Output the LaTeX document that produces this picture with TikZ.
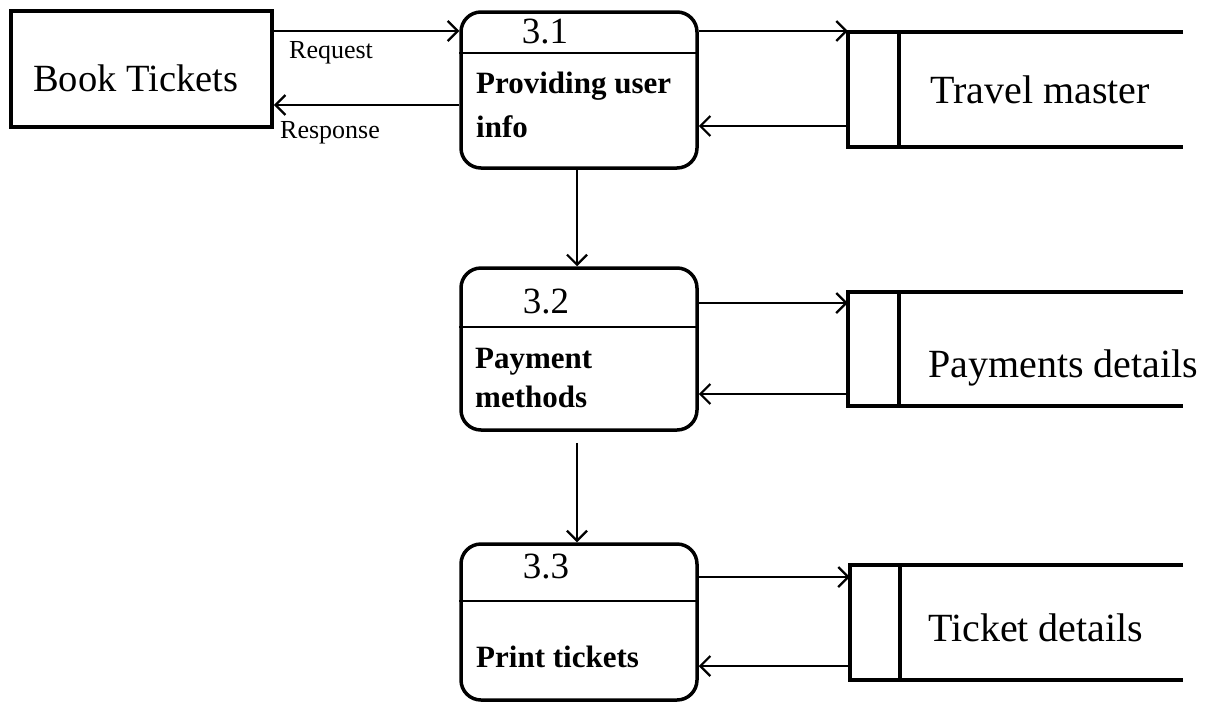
\documentclass[tikz,border=0pt]{standalone}
\usepackage{fontspec}
\setmainfont{Liberation Serif}
\usetikzlibrary{arrows.meta}
\begin{document}
\begin{tikzpicture}[x=1pt,y=-1pt,
  extbox/.style={draw,line width=3.8pt,inner sep=0pt},
  proc/.style={draw,line width=3.5pt,rounded corners=20pt,inner sep=0pt,minimum width=236pt},
  storebox/.style={inner sep=0pt},
  storeline/.style={line width=4pt},
  divline/.style={line width=2.8pt},
  flow/.style={line width=2pt,-{Straight Barb[length=10pt,width=20pt,line width=2.2pt]}},
  txt/.style={inner sep=0pt,anchor=base west},
  numtxt/.style={inner sep=0pt,anchor=base,font=\fontsize{37pt}{39pt}\selectfont},
  bodytxt/.style={inner sep=0pt,anchor=base west,font=\fontsize{31pt}{33pt}\selectfont\bfseries},
  storetxt/.style={inner sep=0pt,anchor=base west,font=\fontsize{40pt}{42pt}\selectfont},
  lbltxt/.style={inner sep=0pt,anchor=base west,font=\fontsize{26pt}{28pt}\selectfont}]
\useasboundingbox (0,0) rectangle (1210,702);

% external entity
\node[extbox,minimum width=261pt,minimum height=116pt] (book) at (141.5,69) {};
\node[txt,font=\fontsize{38.5pt}{40pt}\selectfont] (booktxt) at (33,91) {Book Tickets};

% processes
\node[proc,minimum height=156pt] (p1) at (579,90) {};
\node[proc,minimum height=162pt] (p2) at (579,349) {};
\node[proc,minimum height=156pt] (p3) at (579,622) {};

\coordinate (d1) at (0,53);
\coordinate (d2) at (0,327);
\coordinate (d3) at (0,601);
\draw[divline] (p1.west |- d1) -- (p1.east |- d1);
\draw[divline] (p2.west |- d2) -- (p2.east |- d2);
\draw[divline] (p3.west |- d3) -- (p3.east |- d3);

\node[numtxt] (n1) at (545,43) {3.1};
\node[numtxt] (n2) at (546,313) {3.2};
\node[numtxt] (n3) at (546,578) {3.3};

\node[bodytxt] (b1a) at (476,93) {Providing user};
\node[bodytxt] (b1b) at (476,137) {info};
\node[bodytxt] (b2a) at (475,368) {Payment};
\node[bodytxt] (b2b) at (475,407) {methods};
\node[bodytxt] (b3) at (476,667) {Print tickets};

% data stores
\node[storebox,minimum width=335pt,minimum height=115pt] (tm) at (1015.5,89.5) {};
\node[storebox,minimum width=335pt,minimum height=114pt] (pd) at (1015.5,349) {};
\node[storebox,minimum width=333pt,minimum height=115pt] (td) at (1016.5,622.5) {};
\foreach \s/\dx in {tm/899,pd/899,td/900}{
  \draw[storeline] (\s.north east) -- (\s.north west) -- (\s.south west) -- (\s.south east);
  \draw[storeline] (\s.north west -| \dx,0) -- (\s.south west -| \dx,0);
}
\node[storetxt] (tmtxt) at (930,103) {Travel master};
\node[storetxt] (pdtxt) at (928,377) {Payments details};
\node[storetxt] (tdtxt) at (928,641) {Ticket details};

% flows
\coordinate (yreq) at (0,31);
\coordinate (yres) at (0,105);
\draw[flow] (book.east |- yreq) -- (p1.west |- yreq);
\draw[flow] (p1.west |- yres) -- (book.east |- yres);
\node[lbltxt] (req) at (289,58) {Request};
\node[lbltxt] (res) at (280,138) {Response};

\coordinate (y1o) at (0,31);
\coordinate (y1i) at (0,126);
\coordinate (y2o) at (0,303);
\coordinate (y2i) at (0,394);
\coordinate (y3o) at (0,577);
\coordinate (y3i) at (0,666);
\draw[flow] (p1.east |- y1o) -- (tm.west |- y1o);
\draw[flow] (tm.west |- y1i) -- (p1.east |- y1i);
\draw[flow] (p2.east |- y2o) -- (pd.west |- y2o);
\draw[flow] (pd.west |- y2i) -- (p2.east |- y2i);
\draw[flow] (p3.east |- y3o) -- (td.west |- y3o);
\draw[flow] (td.west |- y3i) -- (p3.east |- y3i);

\coordinate (xv) at (577,0);
\draw[flow] (p1.south -| xv) -- (p2.north -| xv);
\draw[flow] (p2.south -| xv) ++(0,11) -- (p3.north -| xv);
\end{tikzpicture}
\end{document}
